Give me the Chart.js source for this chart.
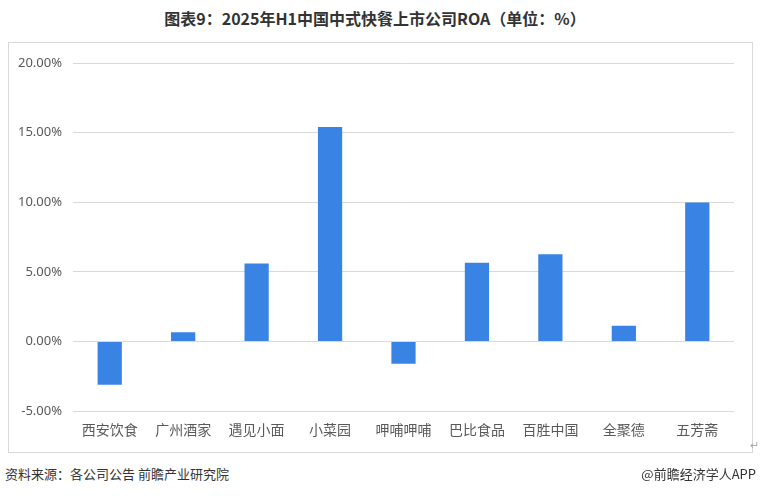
<!DOCTYPE html>
<html>
<head>
<meta charset="utf-8">
<script src="https://cdn.jsdelivr.net/npm/chart.js@4.4.1/dist/chart.umd.min.js"></script>
<style>
  html, body { margin: 0; padding: 0; background: #fff; }
  body { width: 760px; height: 496px; position: relative; overflow: hidden;
         font-family: "Noto Sans CJK SC", "Noto Sans", sans-serif; }
  #title { position: absolute; left: 0; top: 6px; width: 750px; text-align: center;
           font-size: 16px; font-weight: bold; color: #333; }
  #box { position: absolute; left: 8px; top: 42px; width: 743px; height: 409px;
         border: 1px solid #d9d9d9; }
  #wrap { position: absolute; left: 0; top: 0; width: 743px; height: 409px; }
  #src { position: absolute; left: 5px; top: 464px; font-size: 13px; color: #333; }
  #app { position: absolute; right: 4px; top: 464px; font-size: 13px; color: #333; }
  #ret { position: absolute; left: 750px; top: 436px; font-size: 11px; color: #aaa; }
</style>
</head>
<body>
<div id="title">图表9：2025年H1中国中式快餐上市公司ROA（单位：%）</div>
<div id="box"><div id="wrap"><canvas id="c"></canvas></div></div>
<div id="ret">↵</div>
<div id="src">资料来源：各公司公告 前瞻产业研究院</div>
<div id="app">@前瞻经济学人APP</div>
<script>
const categories = ["西安饮食", "广州酒家", "遇见小面", "小菜园", "呷哺呷哺", "巴比食品", "百胜中国", "全聚德", "五芳斋"];
const roaValues = [-3.1, 0.67, 5.6, 15.4, -1.6, 5.66, 6.26, 1.13, 9.98];
const yTickMin = -5;
const yTickMax = 20;
const yTickStep = 5;

new Chart(document.getElementById('c'), {
  type: 'bar',
  data: {
    labels: categories,
    datasets: [{
      label: 'ROA',
      data: roaValues,
      backgroundColor: '#3883e4',
      borderWidth: 0,
      barPercentage: 0.33,
      categoryPercentage: 1.0
    }]
  },
  options: {
    responsive: true,
    maintainAspectRatio: false,
    animation: false,
    layout: { padding: { top: 20, right: 18, bottom: 12, left: 0 } },
    plugins: { legend: { display: false }, tooltip: { enabled: false } },
    scales: {
      x: {
        grid: { display: false },
        border: { display: false },
        ticks: { color: '#595959', font: { size: 14, family: '"Noto Sans CJK SC", sans-serif' }, padding: 2, maxRotation: 0 }
      },
      y: {
        min: yTickMin, max: yTickMax,
        afterFit: (s) => { s.width = 64; },
        grid: { color: '#d9d9d9', drawTicks: false, lineWidth: 1 },
        border: { display: false },
        ticks: {
          stepSize: yTickStep,
          color: '#595959',
          padding: 11,
          font: { size: 13, family: '"Noto Sans", sans-serif' },
          callback: (v) => v.toFixed(2) + '%'
        }
      }
    }
  }
});
</script>
</body>
</html>
